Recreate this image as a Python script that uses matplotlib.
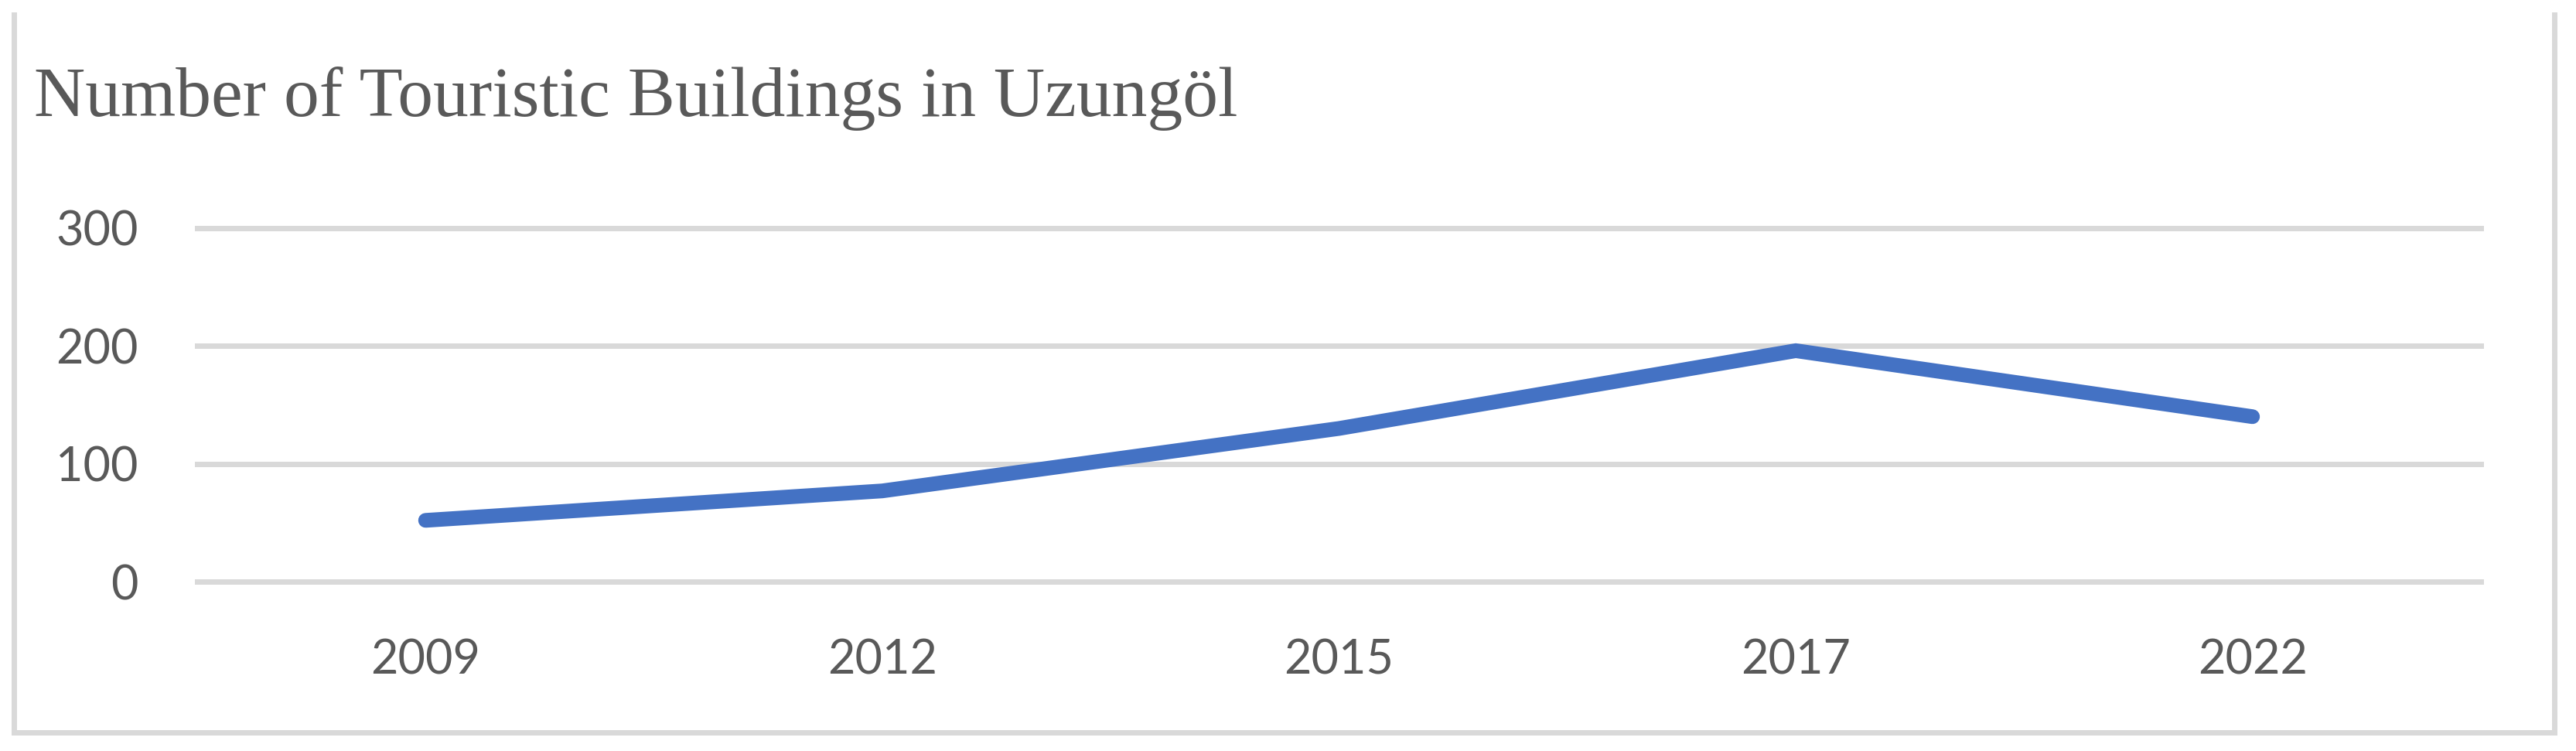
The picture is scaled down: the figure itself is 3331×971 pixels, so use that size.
import matplotlib
matplotlib.use("Agg")
import matplotlib.pyplot as plt
from matplotlib.lines import Line2D

# data
years = ["2009", "2012", "2015", "2017", "2022"]
buildings = [52, 77, 130, 196, 140]
y_ticks = [0, 100, 200, 300]

W, H, DPI = 3331, 971, 100
px = 72.0 / DPI  # points per pixel

line_blue = "#4472C4"
grid_gray = "#D9D9D9"
text_gray = "#595959"

fig = plt.figure(figsize=(W / DPI, H / DPI), dpi=DPI)

# axes box: x 255..3208 px, y (from top) 295..752 px
left, right = 255 / W, 3208 / W
top, bottom = (H - 295) / H, (H - 752) / H
ax = fig.add_axes([left, bottom, right - left, top - bottom])

x = list(range(len(years)))
ax.plot(x, buildings, color=line_blue, linewidth=19 * px,
        solid_capstyle="round", solid_joinstyle="miter", zorder=3)

ax.set_xlim(-0.5, len(years) - 0.5)
ax.set_ylim(0, 300)
ax.set_xticks(x)
ax.set_xticklabels(years)
ax.set_yticks(y_ticks)
ax.set_yticklabels([str(v) for v in y_ticks])

ax.yaxis.grid(True, color=grid_gray, linewidth=7 * px)
ax.set_axisbelow(True)
for gl in ax.get_ygridlines():
    gl.set_clip_on(False)

for s in ax.spines.values():
    s.set_visible(False)

ax.tick_params(axis="both", length=0, colors=text_gray, labelsize=44)
ax.tick_params(axis="y", pad=55)
ax.tick_params(axis="x", pad=53)
for lab in ax.get_xticklabels() + ax.get_yticklabels():
    lab.set_fontfamily("Lato")

# title
fig.text(44 / W, (H - 150) / H, "Number of Touristic Buildings in Uzungöl",
         fontfamily="Liberation Serif", fontsize=66, color=text_gray,
         ha="left", va="baseline")

# chart frame (no top edge visible in the reference)
bx0, bx1 = 17.5 / W, 3303 / W
by0, by1 = (H - 946.5) / H, (H - 19) / H
for xs, ys in [([bx0, bx0], [by1, by0]),
               ([bx1, bx1], [by1, by0]),
               ([bx0, bx1], [by0, by0])]:
    fig.add_artist(Line2D(xs, ys, transform=fig.transFigure,
                          color=grid_gray, linewidth=7 * px,
                          solid_capstyle="projecting"))

fig.savefig("out.png", dpi=DPI, facecolor="white")
